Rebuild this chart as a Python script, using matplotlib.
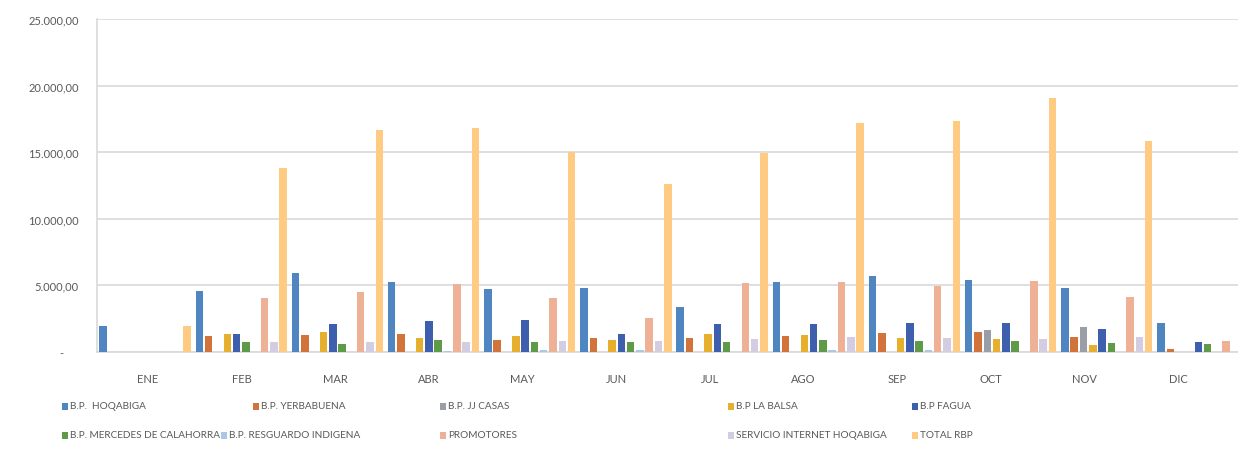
import matplotlib
matplotlib.use("Agg")
import matplotlib.pyplot as plt
from matplotlib.patches import Rectangle
from matplotlib.ticker import FuncFormatter, MultipleLocator
import numpy as np

plt.rcParams['font.family'] = ['Lato', 'DejaVu Sans']

months = ["ENE", "FEB", "MAR", "ABR", "MAY", "JUN", "JUL", "AGO", "SEP", "OCT", "NOV", "DIC"]

series_names = ["B.P.  HOQABIGA", "B.P. YERBABUENA", "B.P. JJ CASAS", "B.P LA BALSA", "B.P FAGUA",
                "B.P. MERCEDES DE CALAHORRA", "B.P. RESGUARDO INDIGENA", "PROMOTORES",
                "SERVICIO INTERNET HOQABIGA", "TOTAL RBP"]

hoqabiga   = [1900, 4550, 5920, 5220, 4730, 4800, 3380, 5220, 5720, 5420, 4800, 2140]
yerbabuena = [0, 1190, 1240, 1320, 900, 1000, 1000, 1200, 1390, 1490, 1070, 200]
jj_casas   = [0, 0, 0, 0, 0, 0, 0, 0, 0, 1640, 1820, 0]
la_balsa   = [0, 1320, 1490, 1000, 1150, 900, 1320, 1250, 1000, 950, 520, 0]
fagua      = [0, 1320, 2060, 2300, 2360, 1320, 2060, 2060, 2140, 2140, 1740, 700]
mercedes   = [0, 750, 570, 900, 700, 750, 700, 900, 800, 820, 650, 570]
resguardo  = [0, 0, 0, 50, 100, 100, 0, 100, 100, 0, 0, 0]
promotores = [0, 4050, 4480, 5050, 4000, 2560, 5170, 5220, 4970, 5300, 4100, 770]
servicio   = [0, 700, 750, 750, 820, 820, 950, 1070, 1000, 950, 1140, 0]
total_rbp  = [1900, 13840, 16670, 16840, 14970, 12590, 14920, 17170, 17340, 19100, 15840, 4380]

all_series = [hoqabiga, yerbabuena, jj_casas, la_balsa, fagua, mercedes,
              resguardo, promotores, servicio, total_rbp]

colors = ["#4f86c2", "#d2733c", "#9a9ea6", "#e6b02e", "#3e5fae", "#5f9a48",
          "#a9c8e8", "#efb195", "#d4cde2", "#ffca82"]

W, H = 1238, 456
fig = plt.figure(figsize=(W / 100, H / 100), dpi=100)
ax_left, ax_right = 97, 1251
ax_top, ax_bottom = 20, 352.7
ax = fig.add_axes([ax_left / W, (H - ax_bottom) / H, (ax_right - ax_left) / W, (ax_bottom - ax_top) / H])

x = np.arange(len(months))
slot = 0.0967
bw = 0.078
for i, (vals, c) in enumerate(zip(all_series, colors)):
    ax.bar(x + (i - 4.5) * slot, vals, width=bw, color=c, zorder=3, linewidth=0)

ax.set_xlim(-0.5, 11.5)
ax.set_ylim(0, 25000)
ax.yaxis.set_major_locator(MultipleLocator(5000))

def fmt(v, pos):
    if v == 0:
        return "-     "
    return f"{v:,.2f}".replace(",", "X").replace(".", ",").replace("X", ".")

ax.yaxis.set_major_formatter(FuncFormatter(fmt))
# category labels in the source sit slightly left of the bar groups
ax.set_xticks(x * 0.974 + 0.03)
ax.set_xticklabels(months)
ax.grid(axis='y', color="#d9d9d9", linewidth=1.2, zorder=0)
ax.set_axisbelow(True)
for s in ["top", "right"]:
    ax.spines[s].set_visible(False)
ax.spines["left"].set_color("#d9d9d9")
ax.spines["bottom"].set_color("#d9d9d9")
ax.spines["left"].set_linewidth(1.2)
ax.spines["bottom"].set_linewidth(1.2)
ax.tick_params(axis='y', length=0, pad=13, labelsize=8, labelcolor="#595959")
ax.tick_params(axis='x', length=0, pad=15, labelsize=8, labelcolor="#595959")

# legend (manual layout)
legend_pos = [(62, 407), (253, 407), (440, 407), (728, 407), (912, 407),
              (62, 436), (221, 436), (440, 436), (728, 436), (912, 436)]
for (px, py), name, c in zip(legend_pos, series_names, colors):
    fig.patches.append(Rectangle((px / W, (H - py - 3.5) / H), 6 / W, 7 / H,
                                 transform=fig.transFigure, facecolor=c, edgecolor='none'))
    fig.text((px + 8) / W, (H - py) / H, name, fontsize=7.2, color="#595959",
             ha='left', va='center')

fig.savefig("out.png", dpi=100)
